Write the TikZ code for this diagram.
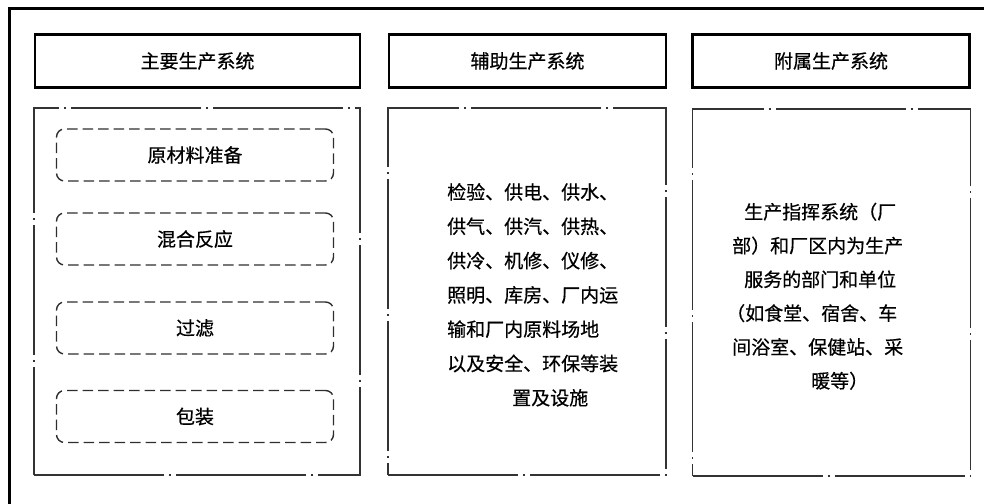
\documentclass[tikz,border=0pt]{standalone}
\usepackage{fontspec}
\newfontfamily\cjk[FakeBold=0.5]{Noto Sans CJK SC}
\tikzset{
  frameline/.style={line width=2.5pt, black},
  headbox/.style={draw=black, line width=2.3pt, minimum width=277pt, minimum height=53pt, inner sep=0pt, font=\cjk\fontsize{19}{22}\selectfont},
  contentbox/.style={draw=black!80, line width=1.4pt, minimum width=277pt, minimum height=367pt, inner sep=0pt,
     dash pattern=on 130pt off 5pt on 2pt off 5pt},
  procbox/.style={draw=black!82, line width=1.4pt, rounded corners=8pt, minimum width=277pt, minimum height=52pt, inner sep=0pt,
     dash pattern=on 10.5pt off 5pt, font=\cjk\fontsize{19}{22}\selectfont},
  bodytext/.style={inner sep=0pt, align=left, font=\cjk\fontsize{19}{34.3}\selectfont},
}
\begin{document}
\begin{tikzpicture}[x=1pt,y=-1pt]
\useasboundingbox (0,0) rectangle (984,503);
% outer frame (only top and left sides visible)
\draw[frameline] (9.5,510) -- (9.5,8.7) -- (990,8.7);
% header boxes
\node[headbox, minimum width=325pt] (h1) at (197.5,61) {主要生产系统};
\node[headbox] (h2) at (527.5,61) {辅助生产系统};
\node[headbox] (h3) at (831,61) {附属生产系统};
% content boxes
\node[contentbox, minimum width=326pt] (c1) at (197,291.5) {};
\node[contentbox, minimum width=278pt] (c2) at (527,291.5) {};
\node[contentbox, minimum width=278pt] (c3) at (831.5,292.5) {};
% process boxes
\node[procbox] (p1) at (195,155) {原材料准备};
\node[procbox] (p2) at (195,239) {混合反应};
\node[procbox] (p3) at (195,328) {过滤};
\node[procbox] (p4) at (195,416.5) {包装};
% auxiliary text (anchor at baseline of last line)
\node[bodytext, anchor=base west] (t2) at (447,405) {检验、供电、供水、\\供气、供汽、供热、\\供冷、机修、仪修、\\照明、库房、厂内运\\输和厂内原料场地\\以及安全、环保等装\\\hspace*{65pt}置及设施};
% attached text (anchor at baseline of last line)
\node[bodytext, anchor=base west, font=\cjk\fontsize{19}{33.8}\selectfont] (t3) at (726,388) {\hspace*{18pt}生产指挥系统（厂\\\hspace*{6pt}部）和厂区内为生产\\\hspace*{18pt}服务的部门和单位\\（如食堂、宿舍、车\\\hspace*{6pt}间浴室、保健站、采\\\hspace*{85pt}暖等）};
\end{tikzpicture}
\end{document}
